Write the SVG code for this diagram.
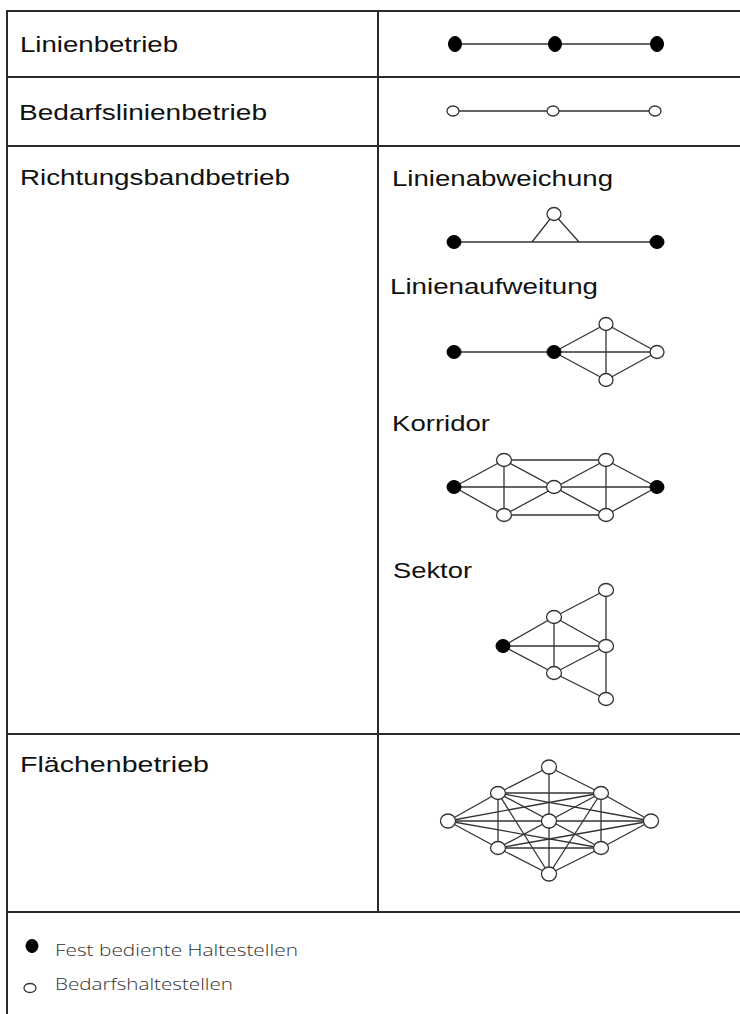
<svg xmlns="http://www.w3.org/2000/svg" width="740" height="1014" viewBox="0 0 740 1014">
  <style>
    .grid { stroke: #2a2a2a; stroke-width: 2; fill: none; }
    .edge { stroke: #333; stroke-width: 1.3; fill: none; }
    .fix { fill: #000; stroke: #000; stroke-width: 1; }
    .dem { fill: #fff; stroke: #333; stroke-width: 1.3; }
    .lbl { font-family: "Liberation Sans", Arial, sans-serif; font-size: 22px; fill: #111; }
    .leg { font-family: "Open Sans", "Liberation Sans", sans-serif; font-weight: 300; font-size: 17px; fill: #333; }
  </style>

  <rect width="740" height="1014" fill="#fff"/>

  <!-- table frame -->
  <g id="table">
    <line class="grid" x1="7" y1="11" x2="740" y2="11"/>
    <line class="grid" x1="7" y1="77" x2="740" y2="77"/>
    <line class="grid" x1="7" y1="146" x2="740" y2="146"/>
    <line class="grid" x1="7" y1="734" x2="740" y2="734"/>
    <line class="grid" x1="7" y1="912" x2="740" y2="912"/>
    <line class="grid" x1="7" y1="10" x2="7" y2="1014"/>
    <line class="grid" x1="378" y1="10" x2="378" y2="912"/>
  </g>

  <!-- row and section labels -->
  <g id="labels">
    <text class="lbl" x="20" y="52" textLength="158" lengthAdjust="spacingAndGlyphs">Linienbetrieb</text>
    <text class="lbl" x="19" y="120" textLength="248" lengthAdjust="spacingAndGlyphs">Bedarfslinienbetrieb</text>
    <text class="lbl" x="20" y="185" textLength="270" lengthAdjust="spacingAndGlyphs">Richtungsbandbetrieb</text>
    <text class="lbl" x="20" y="772" textLength="189" lengthAdjust="spacingAndGlyphs">Flächenbetrieb</text>
    <text class="lbl" x="392" y="186" textLength="221" lengthAdjust="spacingAndGlyphs">Linienabweichung</text>
    <text class="lbl" x="390" y="294" textLength="208" lengthAdjust="spacingAndGlyphs">Linienaufweitung</text>
    <text class="lbl" x="392" y="431" textLength="98" lengthAdjust="spacingAndGlyphs">Korridor</text>
    <text class="lbl" x="393" y="578" textLength="79" lengthAdjust="spacingAndGlyphs">Sektor</text>
  </g>

  <!-- connectors -->
  <g id="connectors">
    <!-- Linienbetrieb -->
    <line class="edge" x1="455" y1="44" x2="657" y2="44"/>
    <!-- Bedarfslinienbetrieb -->
    <line class="edge" x1="453" y1="111" x2="655" y2="111"/>
    <!-- Linienabweichung -->
    <line class="edge" x1="454" y1="242" x2="657" y2="242"/>
    <polyline class="edge" points="532,242 554,214 579,242"/>
    <!-- Linienaufweitung -->
    <line class="edge" x1="454" y1="352" x2="657" y2="352"/>
    <line class="edge" x1="554" y1="352" x2="606" y2="324"/>
    <line class="edge" x1="554" y1="352" x2="606" y2="380"/>
    <line class="edge" x1="606" y1="324" x2="657" y2="352"/>
    <line class="edge" x1="606" y1="380" x2="657" y2="352"/>
    <line class="edge" x1="606" y1="324" x2="606" y2="380"/>
    <!-- Korridor -->
    <line class="edge" x1="454" y1="487" x2="657" y2="487"/>
    <line class="edge" x1="504" y1="460" x2="606" y2="460"/>
    <line class="edge" x1="504" y1="515" x2="606" y2="515"/>
    <line class="edge" x1="504" y1="460" x2="504" y2="515"/>
    <line class="edge" x1="606" y1="460" x2="606" y2="515"/>
    <line class="edge" x1="454" y1="487" x2="504" y2="460"/>
    <line class="edge" x1="454" y1="487" x2="504" y2="515"/>
    <line class="edge" x1="504" y1="460" x2="606" y2="515"/>
    <line class="edge" x1="504" y1="515" x2="606" y2="460"/>
    <line class="edge" x1="606" y1="460" x2="657" y2="487"/>
    <line class="edge" x1="606" y1="515" x2="657" y2="487"/>
    <!-- Sektor -->
    <line class="edge" x1="503" y1="646" x2="554" y2="617"/>
    <line class="edge" x1="503" y1="646" x2="606" y2="646"/>
    <line class="edge" x1="503" y1="646" x2="554" y2="673"/>
    <line class="edge" x1="554" y1="617" x2="554" y2="673"/>
    <line class="edge" x1="554" y1="617" x2="606" y2="590"/>
    <line class="edge" x1="554" y1="617" x2="606" y2="646"/>
    <line class="edge" x1="554" y1="673" x2="606" y2="646"/>
    <line class="edge" x1="554" y1="673" x2="606" y2="699"/>
    <line class="edge" x1="606" y1="590" x2="606" y2="699"/>
    <!-- Flächenbetrieb -->
    <line class="edge" x1="549" y1="767" x2="498" y2="793"/>
    <line class="edge" x1="549" y1="767" x2="601" y2="793"/>
    <line class="edge" x1="498" y1="793" x2="448" y2="821"/>
    <line class="edge" x1="601" y1="793" x2="651" y2="821"/>
    <line class="edge" x1="448" y1="821" x2="498" y2="848"/>
    <line class="edge" x1="651" y1="821" x2="601" y2="848"/>
    <line class="edge" x1="498" y1="848" x2="549" y2="874"/>
    <line class="edge" x1="601" y1="848" x2="549" y2="874"/>
    <line class="edge" x1="549" y1="767" x2="549" y2="874"/>
    <line class="edge" x1="448" y1="821" x2="651" y2="821"/>
    <line class="edge" x1="498" y1="793" x2="601" y2="793"/>
    <line class="edge" x1="498" y1="848" x2="601" y2="848"/>
    <line class="edge" x1="498" y1="793" x2="498" y2="848"/>
    <line class="edge" x1="601" y1="793" x2="601" y2="848"/>
    <line class="edge" x1="448" y1="821" x2="601" y2="793"/>
    <line class="edge" x1="448" y1="821" x2="601" y2="848"/>
    <line class="edge" x1="651" y1="821" x2="498" y2="793"/>
    <line class="edge" x1="651" y1="821" x2="498" y2="848"/>
    <line class="edge" x1="498" y1="793" x2="549" y2="874"/>
    <line class="edge" x1="601" y1="793" x2="549" y2="874"/>
    <line class="edge" x1="498" y1="793" x2="601" y2="848"/>
    <line class="edge" x1="601" y1="793" x2="498" y2="848"/>
  </g>

  <!-- Linienbetrieb stops -->
  <g id="linie-1"><ellipse class="fix" cx="455" cy="44" rx="6.5" ry="7.5"/></g>
  <g id="linie-2"><ellipse class="fix" cx="555" cy="44" rx="6.5" ry="7.5"/></g>
  <g id="linie-3"><ellipse class="fix" cx="657" cy="44" rx="6.5" ry="7.5"/></g>

  <!-- Bedarfslinienbetrieb stops -->
  <g id="bedarf-1"><ellipse class="dem" cx="453" cy="111" rx="6" ry="5"/></g>
  <g id="bedarf-2"><ellipse class="dem" cx="553" cy="111" rx="6" ry="5"/></g>
  <g id="bedarf-3"><ellipse class="dem" cx="655" cy="111" rx="6" ry="5"/></g>

  <!-- Linienabweichung stops -->
  <g id="abw-a"><ellipse class="fix" cx="454" cy="242" rx="7" ry="6.5"/></g>
  <g id="abw-b"><ellipse class="fix" cx="657" cy="242" rx="7" ry="6.5"/></g>
  <g id="abw-c"><ellipse class="dem" cx="554" cy="214" rx="7" ry="6.5"/></g>

  <!-- Linienaufweitung stops -->
  <g id="auf-a"><ellipse class="fix" cx="454" cy="352" rx="7" ry="6.5"/></g>
  <g id="auf-b"><ellipse class="fix" cx="554" cy="352" rx="7" ry="6.5"/></g>
  <g id="auf-t"><ellipse class="dem" cx="606" cy="324" rx="7" ry="6.5"/></g>
  <g id="auf-r"><ellipse class="dem" cx="657" cy="352" rx="7" ry="6.5"/></g>
  <g id="auf-u"><ellipse class="dem" cx="606" cy="380" rx="7" ry="6.5"/></g>

  <!-- Korridor stops -->
  <g id="kor-l"><ellipse class="fix" cx="454" cy="487" rx="7" ry="6.5"/></g>
  <g id="kor-r"><ellipse class="fix" cx="657" cy="487" rx="7" ry="6.5"/></g>
  <g id="kor-tl"><ellipse class="dem" cx="504" cy="460" rx="7.5" ry="6.5"/></g>
  <g id="kor-tr"><ellipse class="dem" cx="606" cy="460" rx="7.5" ry="6.5"/></g>
  <g id="kor-c"><ellipse class="dem" cx="554" cy="487" rx="7.5" ry="6.5"/></g>
  <g id="kor-bl"><ellipse class="dem" cx="504" cy="515" rx="7.5" ry="6.5"/></g>
  <g id="kor-br"><ellipse class="dem" cx="606" cy="515" rx="7.5" ry="6.5"/></g>

  <!-- Sektor stops -->
  <g id="sek-f"><ellipse class="fix" cx="503" cy="646" rx="7" ry="6.5"/></g>
  <g id="sek-um"><ellipse class="dem" cx="554" cy="617" rx="7.5" ry="6.5"/></g>
  <g id="sek-tr"><ellipse class="dem" cx="606" cy="590" rx="7.5" ry="6.5"/></g>
  <g id="sek-rm"><ellipse class="dem" cx="606" cy="646" rx="7.5" ry="6.5"/></g>
  <g id="sek-lm"><ellipse class="dem" cx="554" cy="673" rx="7.5" ry="6.5"/></g>
  <g id="sek-br"><ellipse class="dem" cx="606" cy="699" rx="7.5" ry="6.5"/></g>

  <!-- Flächenbetrieb stops -->
  <g id="fl-t"><ellipse class="dem" cx="549" cy="767" rx="7.5" ry="7"/></g>
  <g id="fl-ul"><ellipse class="dem" cx="498" cy="793" rx="7.5" ry="6.5"/></g>
  <g id="fl-ur"><ellipse class="dem" cx="601" cy="793" rx="7.5" ry="6.5"/></g>
  <g id="fl-l"><ellipse class="dem" cx="448" cy="821" rx="7.5" ry="7"/></g>
  <g id="fl-c"><ellipse class="dem" cx="549" cy="821" rx="7.5" ry="7"/></g>
  <g id="fl-r"><ellipse class="dem" cx="651" cy="821" rx="7.5" ry="7"/></g>
  <g id="fl-ll"><ellipse class="dem" cx="498" cy="848" rx="7.5" ry="6.5"/></g>
  <g id="fl-lr"><ellipse class="dem" cx="601" cy="848" rx="7.5" ry="6.5"/></g>
  <g id="fl-b"><ellipse class="dem" cx="549" cy="874" rx="7.5" ry="7"/></g>

  <!-- legend -->
  <g id="legend-fix">
    <ellipse class="fix" cx="32" cy="946" rx="6" ry="6.5"/>
    <text class="leg" x="55" y="956" textLength="243" lengthAdjust="spacingAndGlyphs">Fest bediente Haltestellen</text>
  </g>
  <g id="legend-dem">
    <ellipse class="dem" cx="30" cy="988" rx="6" ry="4.5"/>
    <text class="leg" x="55" y="990" textLength="178" lengthAdjust="spacingAndGlyphs">Bedarfshaltestellen</text>
  </g>
</svg>
